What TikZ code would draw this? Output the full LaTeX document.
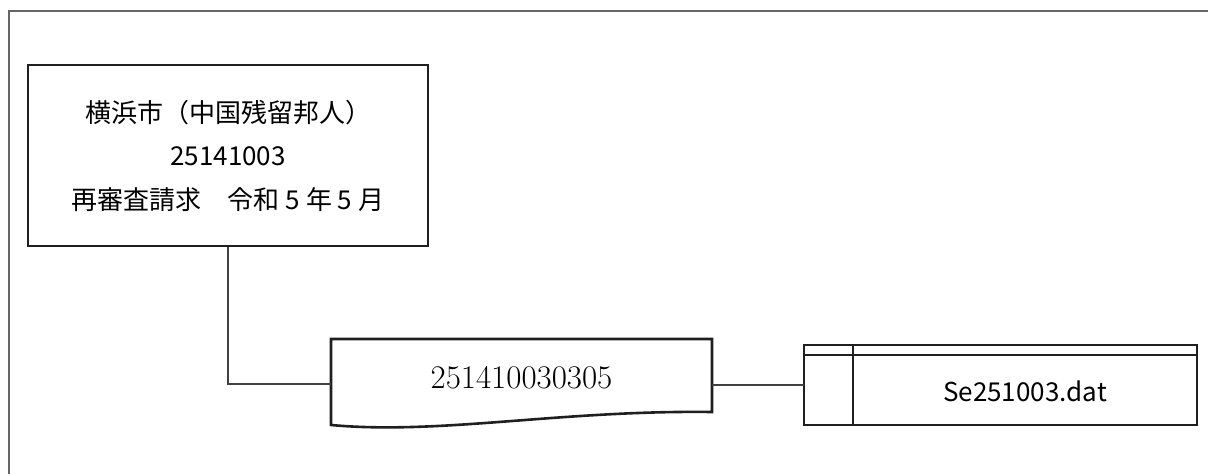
\documentclass[tikz,border=0pt]{standalone}
\usepackage{fontspec}
\newfontfamily\jpfont{Noto Sans CJK JP}
\tikzset{
  box/.style={draw=black!88, line width=2.6pt, inner sep=0pt},
  conn/.style={draw=black!75, line width=1.3pt},
  frame/.style={draw=black!60, line width=1.8pt},
}
\begin{document}
\begin{tikzpicture}[x=1pt,y=-1pt]
\useasboundingbox (0,0) rectangle (1208,474);
\clip (0,0) rectangle (1208,474);
% outer frame (extends beyond the picture on the right and bottom)
\draw[frame] (1230,11) -- (9,11) -- (9,500);
% left box
\node[box, minimum width=400pt, minimum height=181pt, align=center,
      font=\jpfont\fontsize{26}{43.5}\selectfont] (src) at (228,155.5)
  {横浜市（中国残留邦人）\\25141003\\再審査請求　令和 5 年 5 月};
% document shape
\node[minimum width=381pt, minimum height=73pt, inner sep=0pt,
      font=\fontsize{33}{38}\selectfont] (doc) at (521.5,378) {251410030305};
\draw[box, line join=miter]
  (331,425) -- (331,339) -- (712,339) -- (712,412)
  .. controls (560,410) and (440,435) .. (331,425) -- cycle;
\coordinate (docin) at (331,384);
\coordinate (docout) at (712,385);
% data file box
\node[box, minimum width=393pt, minimum height=80pt] (dat) at (1000.5,385) {};
\draw[box] (804,355) -- (1197,355);
\draw[box] (853,345) -- (853,425);
\node[font=\jpfont\fontsize{26}{30}\selectfont] (datlabel) at (1025,391) {Se251003.dat};
\coordinate (datin) at (804,385);
% connectors
\draw[conn] (src.south) |- (docin);
\draw[conn] (docout) -- (datin);
\end{tikzpicture}
\end{document}
